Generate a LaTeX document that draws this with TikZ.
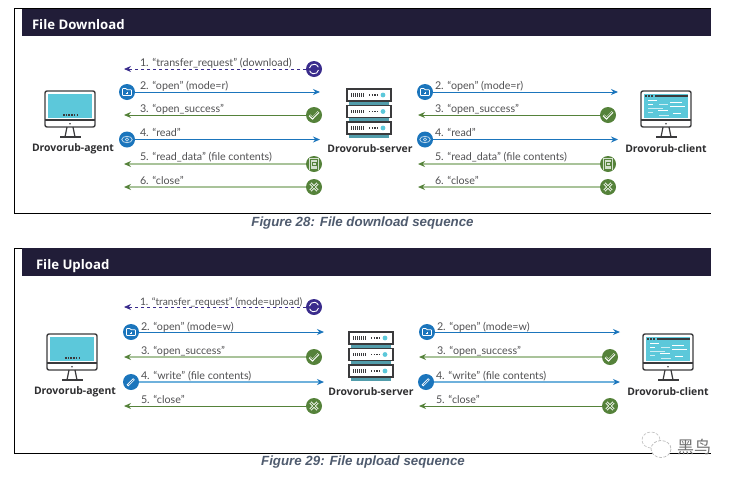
\documentclass[tikz,border=0pt]{standalone}
\usepackage{fontspec}
\usetikzlibrary{arrows.meta}
\setmainfont{Lato}
\newfontfamily\capfont{Liberation Sans}
\newfontfamily\hostfont{Open Sans}
\newfontfamily\cjkfont{Noto Sans CJK SC}
\definecolor{barcol}{HTML}{211D38}
\definecolor{bluecol}{HTML}{1B75BC}
\definecolor{palebluecol}{HTML}{6FB1DC}
\definecolor{greencol}{HTML}{55823A}
\definecolor{palegreencol}{HTML}{A9C39A}
\definecolor{purplecol}{HTML}{3A2C8C}
\definecolor{screencol}{HTML}{5CC8DA}
\definecolor{darkcol}{HTML}{3A3A3C}
\definecolor{textcol}{HTML}{505052}
\definecolor{captioncol}{HTML}{4F5B6E}

\tikzset{
	monitor/.pic = {
		\fill[screencol] (3,3) rectangle (47,27);
		\draw[darkcol, line width=1.4, rounded corners=2] (0,0) rectangle (50,36);
		\draw[darkcol, line width=1.2] (0,29) -- (50,29);
		\fill[darkcol] (25,32.7) circle (0.9);
		\draw[darkcol, line width=1.2] (22,36) -- (20,46) (28,36) -- (30,46);
		\draw[darkcol, line width=1.4] (15,46) -- (36,46);
	},
	agentdots/.pic = {
		\draw[darkcol, line width=1.2, dash pattern=on 1.5 off 1.2] (18,24) -- (33,24);
	},
	codelines/.pic = {
		\draw[darkcol, line width=1.6] (14,5) -- (47,5);
		\draw[darkcol, line width=1.6, dash pattern=on 2 off 1] (4,5) -- (12,5);
		\draw[white, line width=0.9] (7,9) -- (16,9) (29,11) -- (41,11) (7,13) -- (12,13) (29,15) -- (44,15) (17,19) -- (27,19) (32,22) -- (40,22);
		\draw[white!70!screencol, line width=0.9] (7,17) -- (22,17) (7,21) -- (12,21) (18,13) -- (27,13) (18,24) -- (28,24);
	},
	serverrow/.pic = {
		\fill[screencol!70!darkcol] (2,12) rectangle (42,16);
		\draw[darkcol, line width=1.3, fill=white] (0,0) rectangle (44,12);
		\draw[darkcol, line width=3.2, dash pattern=on 1 off 1] (4,6) -- (17,6);
		\draw[darkcol, line width=1.2, dash pattern=on 1.4 off 1.2] (22,6) -- (31,6);
		\fill[screencol] (36,6) circle (2.4);
	},
	iconsync/.pic = {
		\draw[white, line width=0.9] (-4.5,-1) arc (190:340:4.6);
		\draw[white, line width=0.9] (4.5,1) arc (10:160:4.6);
	},
	iconfolder/.pic = {
		\draw[white, line width=0.8, rounded corners=0.6] (-4.5,3.5) -- (-4.5,-3.5) -- (-1,-3.5) -- (0,-2.2) -- (4.5,-2.2) -- (4.5,3.5) -- cycle;
		\draw[white, line width=0.6] (-1.3,0.8) -- (1.3,0.8) (0,-0.5) -- (0,2.1);
	},
	iconcheck/.pic = {
		\draw[white, line width=2.2] (-4.5,0.3) -- (-1.5,3.2) -- (4.5,-3);
		\draw[greencol, line width=0.7] (-4,0.3) -- (-1.5,2.7) -- (4,-3);
	},
	iconcross/.pic = {
		\draw[white, line width=2.6] (-3.6,-3.6) -- (3.6,3.6) (-3.6,3.6) -- (3.6,-3.6);
		\draw[greencol, line width=1] (-3.6,-3.6) -- (3.6,3.6) (-3.6,3.6) -- (3.6,-3.6);
	},
	icondoc/.pic = {
		\fill[white!75!greencol] (-4.8,-6) rectangle (4.8,6);
		\draw[greencol, line width=0.8] (-3.8,-5) rectangle (3.8,5);
		\draw[greencol, line width=0.7] (-2,-1.5) rectangle (2,1.5);
	},
	iconeye/.pic = {
		\draw[white!70!bluecol, line width=0.8] (0,0) ellipse (5.2 and 3.2);
		\draw[white!70!bluecol, line width=0.7] (0,0) circle (1.6);
	},
	iconpen/.pic = {
		\draw[white, line width=2.2] (-3.6,3.6) -- (3,-3);
		\draw[bluecol, line width=0.7] (-2.6,2.6) -- (2.4,-2.4);
	},
}

\begin{document}
\begin{tikzpicture}[
	x=1pt, y=-1pt,
	every node/.style = {inner sep=0pt, outer sep=0pt},
	msg/.style = {anchor=base west, text=textcol, font=\fontsize{10.7}{12}\selectfont},
	host/.style = {anchor=center, text=darkcol!80!black, font=\fontsize{10.4}{12}\hostfont\bfseries},
	heading/.style = {anchor=base west, text=white, font=\fontsize{13.2}{15}\hostfont\bfseries},
	caption/.style = {anchor=center, text=captioncol, font=\fontsize{13.3}{15}\capfont\bfseries\itshape},
	bluedot/.style = {circle, fill=bluecol, minimum size=16pt},
	greendot/.style = {circle, fill=greencol, minimum size=16pt},
	purpledot/.style = {circle, fill=purplecol, minimum size=16pt},
	bluethin/.style = {draw=bluecol, line width=1, -{Stealth[length=7pt, width=6pt]}},
	bluefat/.style = {draw=palebluecol, line width=1.8, -{Stealth[length=7pt, width=6pt, color=bluecol]}},
	greenthin/.style = {draw=greencol, line width=1, -{Stealth[length=7pt, width=6pt]}},
	greenfat/.style = {draw=palegreencol, line width=2, -{Stealth[length=7pt, width=6pt, color=greencol]}},
	purpledash/.style = {draw=purplecol, line width=0.8, dashed, -{Stealth[length=7pt, width=6pt]}}]
	\useasboundingbox (0,0) rectangle (735,480);

	\draw[black, line width=1] (711,8.5) -- (14.5,8.5) -- (14.5,213) -- (711,213);
	\fill[barcol] (22,9) rectangle (711,36);
	\node[heading] (downtitle) at (32,29) {File Download};
	\node[caption] (downcaption) at (362.5,223.5) {Figure 28: File download sequence};

	\pic at (45,91) {monitor};
	\pic at (45,91) {agentdots};
	\node[host] (downagent) at (73,149) {Drovorub-agent};
	\pic at (347,89) {serverrow};
	\pic at (347,105.5) {serverrow};
	\pic at (347,122) {serverrow};
	\node[host] (downserver) at (370,149) {Drovorub-server};
	\pic at (641,91) {monitor};
	\pic at (641,91) {codelines};
	\node[host] (downclient) at (666,149) {Drovorub-client};

	\node[purpledot] (dreq) at (314,69) {};
	\pic at (dreq) {iconsync};
	\coordinate (dreqend) at (124,69);
	\draw[purpledash] (dreq) -- (dreqend);
	\node[msg] (dreqtext) at (140,66.7) {1. “transfer\_request” (download)};

	\node[bluedot] (daopen) at (127,92) {};
	\pic at (daopen) {iconfolder};
	\coordinate (daopenend) at (320,92);
	\draw[bluethin] (daopen) -- (daopenend);
	\node[msg] (daopentext) at (140,89.7) {2. “open” (mode=r)};

	\node[greendot] (daok) at (314,115) {};
	\pic at (daok) {iconcheck};
	\coordinate (daokend) at (124,115);
	\draw[greenthin] (daok) -- (daokend);
	\node[msg] (daoktext) at (140,112.7) {3. “open\_success”};

	\node[bluedot] (daread) at (127,139.5) {};
	\pic at (daread) {iconeye};
	\coordinate (dareadend) at (320,139.5);
	\draw[bluethin] (daread) -- (dareadend);
	\node[msg] (dareadtext) at (140,136.7) {4. “read”};

	\node[greendot] (dadata) at (314,164) {};
	\pic at (dadata) {icondoc};
	\coordinate (dadataend) at (124,164);
	\draw[greenfat] (dadata) -- (dadataend);
	\node[msg] (dadatatext) at (140,160) {5. “read\_data” (file contents)};

	\node[greendot] (daclose) at (314,187) {};
	\pic at (daclose) {iconcross};
	\coordinate (dacloseend) at (124,187);
	\draw[greenfat] (daclose) -- (dacloseend);
	\node[msg] (daclosetext) at (140,184) {6. “close”};

	\node[bluedot] (dcopen) at (425,92) {};
	\pic at (dcopen) {iconfolder};
	\coordinate (dcopenend) at (618,92);
	\draw[bluethin] (dcopen) -- (dcopenend);
	\node[msg] (dcopentext) at (435,89.7) {2. “open” (mode=r)};

	\node[greendot] (dcok) at (608,115) {};
	\pic at (dcok) {iconcheck};
	\coordinate (dcokend) at (418,115);
	\draw[greenthin] (dcok) -- (dcokend);
	\node[msg] (dcoktext) at (435,112.7) {3. “open\_success”};

	\node[bluedot] (dcread) at (425,139.5) {};
	\pic at (dcread) {iconeye};
	\coordinate (dcreadend) at (618,139.5);
	\draw[bluethin] (dcread) -- (dcreadend);
	\node[msg] (dcreadtext) at (435,136.7) {4. “read”};

	\node[greendot] (dcdata) at (608,164) {};
	\pic at (dcdata) {icondoc};
	\coordinate (dcdataend) at (418,164);
	\draw[greenfat] (dcdata) -- (dcdataend);
	\node[msg] (dcdatatext) at (435,160) {5. “read\_data” (file contents)};

	\node[greendot] (dcclose) at (608,187) {};
	\pic at (dcclose) {iconcross};
	\coordinate (dccloseend) at (418,187);
	\draw[greenfat] (dcclose) -- (dccloseend);
	\node[msg] (dcclosetext) at (435,184) {6. “close”};

	\draw[black, line width=1] (711,248.5) -- (14.5,248.5) -- (14.5,453) -- (711,453);
	\fill[barcol] (22,248) rectangle (711,276);
	\node[heading] (uptitle) at (36,269.5) {File Upload};
	\node[caption] (upcaption) at (363,462.5) {Figure 29: File upload sequence};

	\pic at (47,334) {monitor};
	\pic at (47,334) {agentdots};
	\node[host] (upagent) at (75,392) {Drovorub-agent};
	\pic at (349,332) {serverrow};
	\pic at (349,348.5) {serverrow};
	\pic at (349,365) {serverrow};
	\node[host] (upserver) at (371,392) {Drovorub-server};
	\pic at (643,334) {monitor};
	\pic at (643,334) {codelines};
	\node[host] (upclient) at (668,392) {Drovorub-client};

	\node[purpledot] (ureq) at (314,307) {};
	\pic at (ureq) {iconsync};
	\coordinate (ureqend) at (124,307);
	\draw[purpledash] (ureq) -- (ureqend);
	\node[msg, font=\fontsize{10.2}{12}\selectfont] (ureqtext) at (140,305) {1. “transfer\_request” (mode=upload)};

	\node[bluedot] (uaopen) at (131,332) {};
	\pic at (uaopen) {iconfolder};
	\coordinate (uaopenend) at (324,332);
	\draw[bluethin] (uaopen) -- (uaopenend);
	\node[msg] (uaopentext) at (141,330) {2. “open” (mode=w)};

	\node[greendot] (uaok) at (314,357) {};
	\pic at (uaok) {iconcheck};
	\coordinate (uaokend) at (124,357);
	\draw[greenfat] (uaok) -- (uaokend);
	\node[msg] (uaoktext) at (141,354) {3. “open\_success”};

	\node[bluedot] (uawrite) at (131,382) {};
	\pic at (uawrite) {iconpen};
	\coordinate (uawriteend) at (324,382);
	\draw[bluefat] (uawrite) -- (uawriteend);
	\node[msg] (uawritetext) at (141,379) {4. “write” (file contents)};

	\node[greendot] (uaclose) at (314,406) {};
	\pic at (uaclose) {iconcross};
	\coordinate (uacloseend) at (124,406);
	\draw[greenthin] (uaclose) -- (uacloseend);
	\node[msg] (uaclosetext) at (141,403) {5. “close”};

	\node[bluedot] (ucopen) at (427,332) {};
	\pic at (ucopen) {iconfolder};
	\coordinate (ucopenend) at (620,332);
	\draw[bluethin] (ucopen) -- (ucopenend);
	\node[msg] (ucopentext) at (437,330) {2. “open” (mode=w)};

	\node[greendot] (ucok) at (610,357) {};
	\pic at (ucok) {iconcheck};
	\coordinate (ucokend) at (419,357);
	\draw[greenfat] (ucok) -- (ucokend);
	\node[msg] (ucoktext) at (437,354) {3. “open\_success”};

	\node[bluedot] (ucwrite) at (426,382) {};
	\pic at (ucwrite) {iconpen};
	\coordinate (ucwriteend) at (620,382);
	\draw[bluefat] (ucwrite) -- (ucwriteend);
	\node[msg] (ucwritetext) at (436,379) {4. “write” (file contents)};

	\node[greendot] (ucclose) at (610,406) {};
	\pic at (ucclose) {iconcross};
	\coordinate (uccloseend) at (419,406);
	\draw[greenthin] (ucclose) -- (uccloseend);
	\node[msg] (ucclosetext) at (436,403) {5. “close”};

	\draw[gray!45, fill=white, line width=0.7, dash pattern=on 3 off 1.5] (651,440) ellipse (9 and 8);
	\draw[gray!55, fill=white, line width=0.7, dash pattern=on 3 off 1.5] (661,449) ellipse (10 and 8.5);
	\node[text=gray!90!black, font=\fontsize{17}{19}\cjkfont] (mark) at (694,447) {黑鸟};
\end{tikzpicture}
\end{document}
